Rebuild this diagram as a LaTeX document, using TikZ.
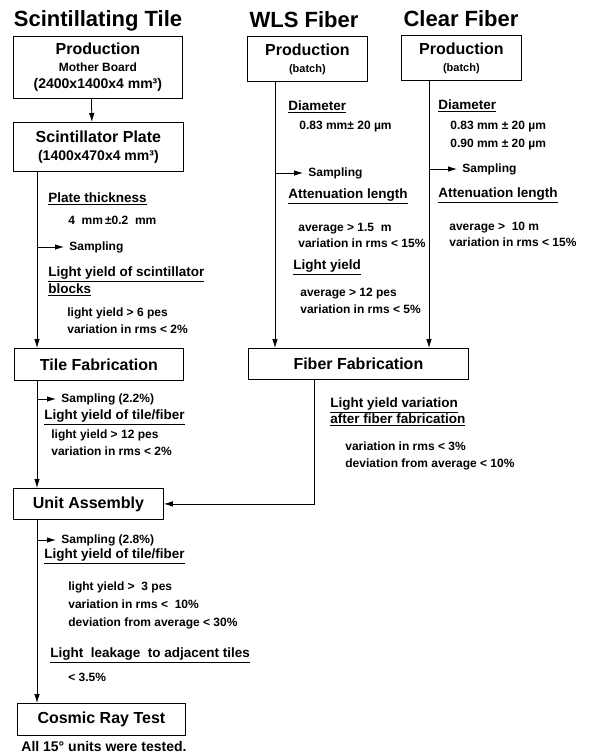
\documentclass[tikz,border=0pt]{standalone}
\usepackage{fontspec}
\setmainfont{Liberation Sans}
\usetikzlibrary{positioning,arrows.meta}
\tikzset{
	flow/.style={x=1pt,y=-1pt,line width=0.8pt,>={Latex[length=9pt,width=5.5pt]},
		font=\bfseries},
	stage/.style={draw,rectangle,anchor=north west,inner sep=0pt,align=center,
		font=\fontsize{16}{19}\bfseries\selectfont},
	column/.style={anchor=center,inner sep=0pt,font=\fontsize{22}{24}\bfseries\selectfont},
	check/.style={anchor=west,inner sep=0pt,align=left,font=\fontsize{13.5}{17}\bfseries\selectfont},
	spec/.style={anchor=west,inner sep=0pt,align=left,font=\fontsize{12}{17}\bfseries\selectfont},
	sample/.style={anchor=west,inner sep=0pt,font=\fontsize{12}{14}\bfseries\selectfont},
	tap/.style={->,shorten >=5pt}
}

\begin{document}
\begin{tikzpicture}[flow]
	\useasboundingbox (0,0) rectangle (589,756);
	
	% column titles
	\node[column] (tiletitle) at (98,21) {Scintillating Tile};
	\node[column] (wlstitle) at (304,20) {WLS Fiber};
	\node[column] (clrtitle) at (461,19) {Clear Fiber};
	
	% spines
	\coordinate (spine) at (37,0);
	\coordinate (wlsspine) at (275,0);
	\coordinate (clrspine) at (429,0);
	\coordinate (fibspine) at (314,0);
	
	% scintillating tile
	\node[stage,minimum width=169pt,minimum height=62pt] (tileprod) at (13,36)
		{Production\\[-2pt]{\fontsize{12}{15}\selectfont Mother Board}\\[-2pt]{\fontsize{14}{16}\selectfont (2400x1400x4 mm³)}};
	\node[stage,minimum width=170pt,minimum height=49pt] (plate) at (13,122)
		{Scintillator Plate\\[-1pt]{\fontsize{14}{16}\selectfont (1400x470x4 mm³)}};
	\node[check] (thick) at (48,199) {\underline{Plate thickness}};
	\node[spec] (thickval) at (68,220) {4\ \ mm\,±0.2\ \ mm};
	\node[sample] (samp) at (69,247) {Sampling};
	\node[check] (blockly) at (48,281.5) {\underline{Light yield of scintillator}\\\underline{blocks}};
	\node[spec] (blocklyval) at (67,320.5) {light yield > 6 pes\\variation in rms < 2\%};
	\node[stage,minimum width=169pt,minimum height=32pt] (tilefab) at (14,348) {Tile Fabrication};
	\node[sample] (samptile) at (61,399) {Sampling (2.2\%)};
	\node[check] (tilely) at (44,417) {\underline{Light yield of tile/fiber}};
	\node[spec] (tilelyval) at (51,442.5) {light yield > 12 pes\\variation in rms < 2\%};
	\node[stage,minimum width=150pt,minimum height=31pt] (unit) at (13,488) {Unit Assembly};
	\node[sample] (sampunit) at (61,540) {Sampling (2.8\%)};
	\node[check] (unitly) at (44,556) {\underline{Light yield of tile/fiber}};
	\node[spec,font=\fontsize{12}{18}\bfseries\selectfont] (unitlyval) at (68,605)
		{light yield >\ \ 3 pes\\variation in rms <\ \ 10\%\\deviation from average < 30\%};
	\node[check] (leak) at (50,655) {\underline{Light\ \ leakage\ \ to adjacent tiles}};
	\node[spec] (leakval) at (68,677) {< 3.5\%};
	\node[stage,minimum width=168pt,minimum height=32pt] (cosmic) at (17,703) {Cosmic Ray Test};
	\node[check,font=\fontsize{14}{16}\bfseries\selectfont] (alltested) at (21,746.5) {All 15° units were tested.};
	
	% wls fiber
	\node[stage,minimum width=120pt,minimum height=45pt] (wlsprod) at (247,36)
		{Production\\[-2pt]{\fontsize{11}{14}\selectfont (batch)}};
	\node[check] (wlsdia) at (288,107) {\underline{Diameter}};
	\node[spec] (wlsdiaval) at (299,127) {0.83 mm± 20 µm};
	\node[sample] (wlssamp) at (308,173) {Sampling};
	\node[check] (wlsatt) at (288,196) {\underline{Attenuation length}};
	\node[spec,font=\fontsize{12}{16}\bfseries\selectfont] (wlsattval) at (298,235)
		{average > 1.5\ \ m\\variation in rms < 15\%};
	\node[check] (wlsly) at (293,267) {\underline{Light yield}};
	\node[spec] (wlslyval) at (300,300.5) {average > 12 pes\\variation in rms < 5\%};
	
	% clear fiber
	\node[stage,minimum width=120pt,minimum height=45pt] (clrprod) at (401,35)
		{Production\\[-2pt]{\fontsize{11}{14}\selectfont (batch)}};
	\node[check] (clrdia) at (438,106) {\underline{Diameter}};
	\node[spec,font=\fontsize{12}{18}\bfseries\selectfont] (clrdiaval) at (450,136)
		{0.83 mm ± 20 µm\\0.90 mm ± 20 µm};
	\node[sample] (clrsamp) at (462,169) {Sampling};
	\node[check] (clratt) at (438,195) {\underline{Attenuation length}};
	\node[spec,font=\fontsize{12}{16}\bfseries\selectfont] (clrattval) at (449,234)
		{average >\ \ 10 m\\variation in rms < 15\%};
	
	\node[stage,minimum width=220pt,minimum height=31pt] (fiberfab) at (248,348) {Fiber Fabrication};
	\node[check,font=\fontsize{13.5}{16}\bfseries\selectfont] (fibvar) at (330,412)
		{\underline{Light yield variation}\\\underline{after fiber fabrication}};
	\node[spec] (fibvarval) at (345,455.5) {variation in rms < 3\%\\deviation from average < 10\%};
	
	% flow
	\draw[->] ([xshift=-6.5pt]tileprod.south) -- ([xshift=-6.5pt]plate.north);
	\draw[->] (plate.south -| spine) -- (tilefab.north -| spine);
	\draw[->] (tilefab.south -| spine) -- (unit.north -| spine);
	\draw[->] (unit.south -| spine) -- (cosmic.north -| spine);
	\draw[->] (wlsprod.south -| wlsspine) -- (fiberfab.north -| wlsspine);
	\draw[->] (clrprod.south -| clrspine) -- (fiberfab.north -| clrspine);
	\draw[->] (fiberfab.south -| fibspine) |- (unit.east);
	
	% sampling taps
	\draw[tap] (samp.west -| spine) -- (samp.west);
	\draw[tap] (samptile.west -| spine) -- (samptile.west);
	\draw[tap] (sampunit.west -| spine) -- (sampunit.west);
	\draw[tap] (wlssamp.west -| wlsspine) -- (wlssamp.west);
	\draw[tap] (clrsamp.west -| clrspine) -- (clrsamp.west);
\end{tikzpicture}
\end{document}
